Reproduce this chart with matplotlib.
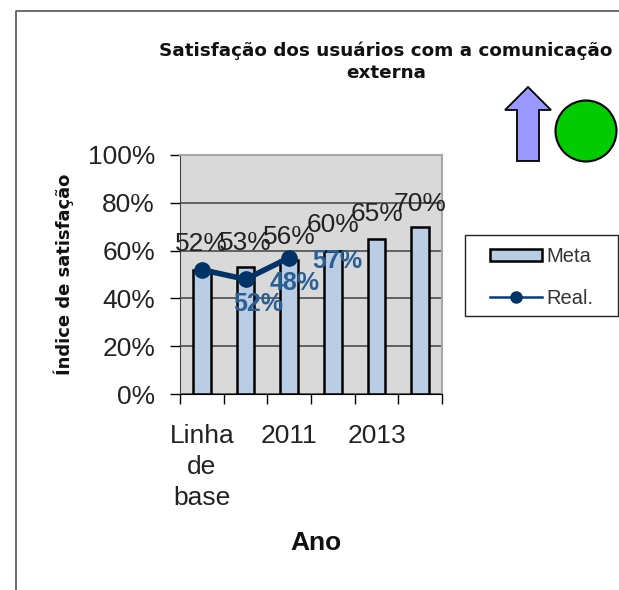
import matplotlib
matplotlib.use("Agg")
import numpy as np
import matplotlib.pyplot as plt
from matplotlib.patches import Polygon, Circle, Patch, Rectangle
from matplotlib.lines import Line2D

plt.rcParams['font.family'] = ['Liberation Sans', 'DejaVu Sans']

# data
categories = ["Linha\nde\nbase", "", "2011", "", "2013", ""]
meta = [52, 53, 56, 60, 65, 70]
real = [52, 48, 57]
real_labels = ["52%", "48%", "57%"]
y_ticks = [0, 20, 40, 60, 80, 100]

W, H = 619, 590
fig = plt.figure(figsize=(W / 100, H / 100), dpi=100, facecolor="white")

# overlay in pixel coords, for the frame, the status icons and the legend box
bg = fig.add_axes([0, 0, 1, 1])
bg.set_xlim(0, W)
bg.set_ylim(H, 0)
bg.axis("off")
bg.plot([16, 16, W], [H, 11, 11], color="#555555", lw=1.2, clip_on=False)
arrow = [(528, 87), (551, 110), (539, 110), (539, 161), (517, 161), (517, 110), (505, 110)]
bg.add_patch(Polygon(arrow, closed=True, fc="#9999ff", ec="black", lw=1.3))
bg.add_patch(Circle((586, 131), 30.5, fc="#00cc00", ec="black", lw=1.5))
bg.add_patch(Rectangle((465, 235), 153, 81, fc="white", ec="#222222", lw=1))

######################################
## main chart ########################
######################################
left, right, top, bottom = 180, 442, 155, 394
ax = fig.add_axes([left / W, 1 - bottom / H, (right - left) / W, (bottom - top) / H])
ax.set_facecolor("#d9d9d9")
x = np.arange(len(meta))
ax.bar(x, meta, width=0.4, color="#b9cde5", edgecolor="black", linewidth=1.8, zorder=2)
ax.plot(x[:len(real)], real, color="#003366", lw=4, marker="o", ms=11, zorder=4)

ax.set_xlim(-0.5, 5.5)
ax.set_ylim(0, 100)
ax.set_yticks(y_ticks)
ax.set_yticklabels(["{}%".format(v) for v in y_ticks], fontsize=19, color="#222222")
ax.tick_params(axis="y", length=7, width=1, pad=11)
ax.grid(axis="y", color="#404040", lw=1.1, zorder=1)
ax.set_axisbelow(True)

# ticks on the category edges, labels in the middle of them
ax.set_xticks(np.arange(-0.5, 6, 1))
ax.set_xticklabels([])
ax.tick_params(axis="x", length=7, width=1)
ax.set_xticks(x, minor=True)
ax.set_xticklabels(categories, minor=True, fontsize=19, color="#222222", linespacing=1.38)
ax.tick_params(axis="x", which="minor", length=0, pad=21.5)

for s in ["top", "right"]:
    ax.spines[s].set_color("#a6a6a6")
    ax.spines[s].set_linewidth(1.5)
ax.spines["left"].set_color("#404040")
ax.spines["bottom"].set_color("black")

# labels of Meta sit above the bars, a bit to the side
meta_off = [(0, 10), (0, 9), (0, 8), (0, 10), (0, 9), (0, 8)]
for i, v in enumerate(meta):
    ax.annotate("{}%".format(v), (x[i], v), xytext=meta_off[i], textcoords="offset points",
                ha="center", va="bottom", fontsize=19, color="#222222", zorder=5)

real_off = [(41, -25), (35.5, -3), (35, -2.5)]
for i, v in enumerate(real):
    ax.annotate(real_labels[i], (x[i], v), xytext=real_off[i], textcoords="offset points",
                ha="center", va="center", fontsize=18, fontweight="bold", color="#2a5f94", zorder=5)

# texts
fig.text(386 / W, 1 - 62 / H, "Satisfação dos usuários com a comunicação\nexterna", ha="center",
         va="center", fontsize=13.2, fontweight="bold", color="#111111", linespacing=1.3,
         family=["DejaVu Sans"])
fig.text(64 / W, 1 - 274 / H, "Índice de satisfação", rotation=90, ha="center", va="center",
         fontsize=13, fontweight="bold", color="#111111", family=["DejaVu Sans"])
fig.text(316 / W, 1 - 543 / H, "Ano", ha="center", va="center", fontsize=19, fontweight="bold", color="#111111")

handles = [Patch(fc="#b9cde5", ec="black", lw=1.8),
           Line2D([], [], color="#003f7f", lw=1.8, marker="o", ms=8, mfc="#003366", mec="#003366")]
leg = fig.legend(handles, ["Meta", "Real."], loc="upper left", bbox_to_anchor=(490 / W, 1 - 247 / H),
                 frameon=False, fontsize=14.5, handlelength=2.6, handleheight=0.6, handletextpad=0.2,
                 labelspacing=1.15, borderpad=0, borderaxespad=0)
for t in leg.get_texts():
    t.set_color("#333333")

fig.savefig("out.png", dpi=100)
